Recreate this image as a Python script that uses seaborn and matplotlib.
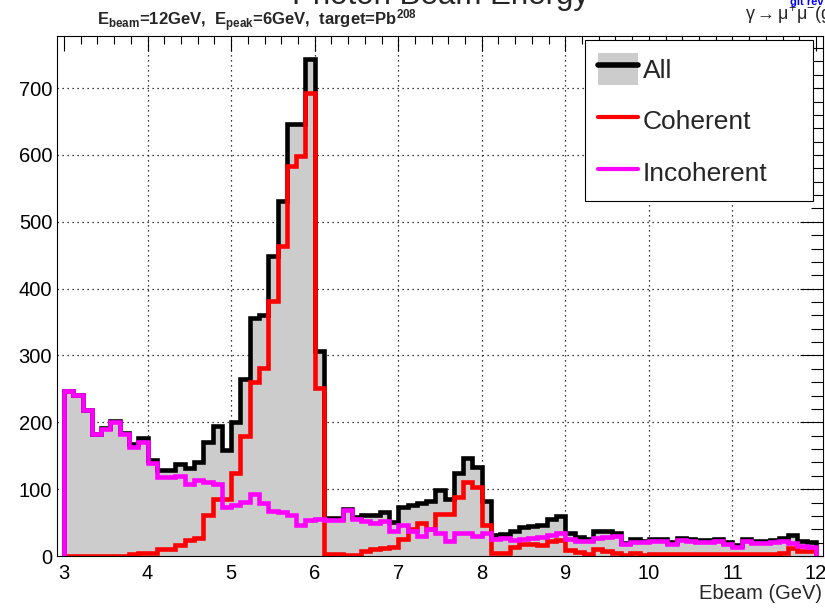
import numpy as np
import pandas as pd
import matplotlib
matplotlib.use("Agg")
import matplotlib.pyplot as plt
import seaborn as sns
from matplotlib.patches import Patch
from matplotlib.lines import Line2D
from matplotlib.legend_handler import HandlerTuple
from matplotlib.ticker import MultipleLocator

# ---------------- data ----------------
E_MIN, E_MAX, N_BINS = 3.0, 12.0, 81

all_counts = [
    247, 241, 219, 182, 192, 202, 184, 167, 176, 143,
    128, 128, 137, 132, 141, 170, 194, 159, 201, 265,
    356, 361, 449, 531, 646, 646, 744, 306, 57, 57,
    71, 59, 61, 61, 66, 51, 73, 77, 80, 82,
    98, 86, 124, 146, 133, 83, 31, 33, 37, 43,
    45, 46, 55, 60, 34, 28, 26, 38, 37, 35,
    20, 25, 23, 26, 25, 21, 27, 25, 24, 24,
    26, 21, 17, 25, 23, 23, 24, 27, 31, 23,
    21]

coherent_counts = [
    0, 0, 0, 0, 0, 0, 0, 3, 4, 4,
    10, 10, 17, 24, 27, 62, 85, 86, 124, 180,
    261, 281, 381, 464, 584, 599, 692, 251, 3, 3,
    1, 1, 8, 10, 12, 13, 25, 40, 50, 41,
    63, 63, 89, 111, 103, 47, 5, 5, 13, 18,
    18, 17, 23, 24, 9, 6, 3, 11, 8, 5,
    2, 4, 2, 3, 3, 3, 3, 3, 3, 3,
    3, 3, 3, 3, 3, 3, 3, 4, 12, 8,
    7]

incoherent_counts = [
    247, 241, 219, 182, 190, 201, 183, 163, 171, 139,
    118, 118, 120, 108, 113, 111, 107, 74, 76, 81,
    93, 79, 67, 66, 61, 47, 54, 55, 54, 54,
    69, 56, 52, 50, 53, 38, 47, 37, 30, 41,
    35, 23, 35, 34, 30, 35, 25, 27, 24, 25,
    27, 29, 32, 35, 25, 22, 23, 27, 29, 30,
    18, 21, 21, 23, 22, 18, 24, 22, 21, 21,
    23, 18, 14, 22, 20, 20, 21, 23, 19, 15,
    14]

legend_labels = ["All", "Coherent", "Incoherent"]
x_ticks = [3, 4, 5, 6, 7, 8, 9, 10, 11, 12]
y_ticks = [0, 100, 200, 300, 400, 500, 600, 700]
title_text = "Photon Beam Energy"
xlabel_text = "Ebeam (GeV)"

# ---------------- style ----------------
sns.set_theme(style="white")
plt.rcParams["font.family"] = ["Liberation Sans", "DejaVu Sans"]
plt.rcParams["mathtext.fontset"] = "custom"
plt.rcParams["mathtext.rm"] = "Liberation Sans"
plt.rcParams["mathtext.bf"] = "Liberation Sans:bold"
plt.rcParams["mathtext.it"] = "Liberation Sans:italic"

GRAY = "#cccccc"
RED = "#ff0000"
MAG = "#ff00ff"
LW = 3.3

W, H = 825, 608
fig = plt.figure(figsize=(W / 100, H / 100), dpi=100)
fig.patch.set_facecolor("white")
left, right, top, bottom = 57, 823, 36, 556
ax = fig.add_axes([left / W, 1 - bottom / H, (right - left) / W, (bottom - top) / H])
ax.set_facecolor("white")

edges = np.linspace(E_MIN, E_MAX, N_BINS + 1)
centers = 0.5 * (edges[:-1] + edges[1:])
hist_df = pd.DataFrame({"E": centers, "all": all_counts})

# grey filled "All" histogram
sns.histplot(data=hist_df, x="E", weights="all", bins=edges.tolist(), element="step",
             fill=True, color=GRAY, alpha=1, linewidth=0, ax=ax, zorder=2)


def outline(vals):
    xs = np.repeat(edges, 2)
    ys = np.concatenate([[0], np.repeat(np.asarray(vals, float), 2), [0]])
    return xs, ys


for vals, col, z in [(all_counts, "black", 3), (coherent_counts, RED, 4),
                     (incoherent_counts, MAG, 5)]:
    xs, ys = outline(vals)
    sns.lineplot(x=xs, y=ys, sort=False, estimator=None, color=col,
                 linewidth=LW, ax=ax, zorder=z, solid_joinstyle="miter")

ax.set_xlim(2.916, 12.084)
ax.set_ylim(0, 778)

# dotted grid under the histograms
for xv in x_ticks[1:-1]:
    ax.axvline(xv, color="black", linestyle=(0, (1, 3)), linewidth=0.9, zorder=0.5)
for yv in y_ticks[1:]:
    ax.axhline(yv, color="black", linestyle=(0, (1, 3)), linewidth=0.9, zorder=0.5)

ax.set_xticks(x_ticks)
ax.set_yticks(y_ticks)
ax.xaxis.set_minor_locator(MultipleLocator(0.2))
ax.yaxis.set_minor_locator(MultipleLocator(20))
ax.tick_params(axis="both", which="both", direction="in", top=True, right=True,
               color="black", width=0.8, labelsize=14.5, labelcolor="black")
ax.tick_params(axis="x", which="major", length=11, pad=6)
ax.tick_params(axis="x", which="minor", length=5.5)
ax.tick_params(axis="y", which="major", length=16.5, pad=3.5)
ax.tick_params(axis="y", which="minor", length=8.5)
for s in ax.spines.values():
    s.set_color("black")
    s.set_linewidth(0.8)
    s.set_zorder(10)
ax.set_xlabel("")
ax.set_ylabel("")

# texts
fig.text(440 / W, 1 - 4 / H, title_text, ha="center", va="baseline", fontsize=22.5)
fig.text(97 / W, 1 - 26 / H,
         r"E$_\mathbf{beam}$=12GeV,  E$_\mathbf{peak}$=6GeV,  target=Pb$^\mathbf{208}$",
         ha="left", va="baseline", fontsize=12, fontweight="bold")
fig.text(745 / W, 1 - 20 / H, r"$\mathrm{\gamma\rightarrow\mu^{+}\mu^{-}}$(g",
         ha="left", va="baseline", fontsize=13)
fig.text(790 / W, 1 - 5 / H, "git rev", ha="left", va="baseline",
         fontsize=8, color="blue", fontweight="bold")
fig.text(822 / W, 1 - 599 / H, xlabel_text, ha="right", va="baseline", fontsize=14.5)

# legend
handles = [(Patch(facecolor=GRAY, edgecolor="none"), Line2D([], [], color="black", lw=4.0)),
           Line2D([], [], color=RED, lw=3.0),
           Line2D([], [], color=MAG, lw=3.0)]
leg = ax.legend(handles, legend_labels,
                handler_map={tuple: HandlerTuple(ndivide=1, pad=0)},
                loc="upper left", bbox_to_anchor=(585 / W, 1 - 199 / H, 228 / W, 159 / H),
                bbox_transform=fig.transFigure, mode="expand", fontsize=19,
                frameon=True, fancybox=False, shadow=False, framealpha=1,
                edgecolor="black", borderpad=0.5, handlelength=1.5,
                handleheight=1.45, handletextpad=0.2, labelspacing=0.77,
                borderaxespad=0)
leg.get_frame().set_linewidth(0.8)
leg.set_zorder(20)

fig.savefig("out.png", dpi=100, facecolor="white")
